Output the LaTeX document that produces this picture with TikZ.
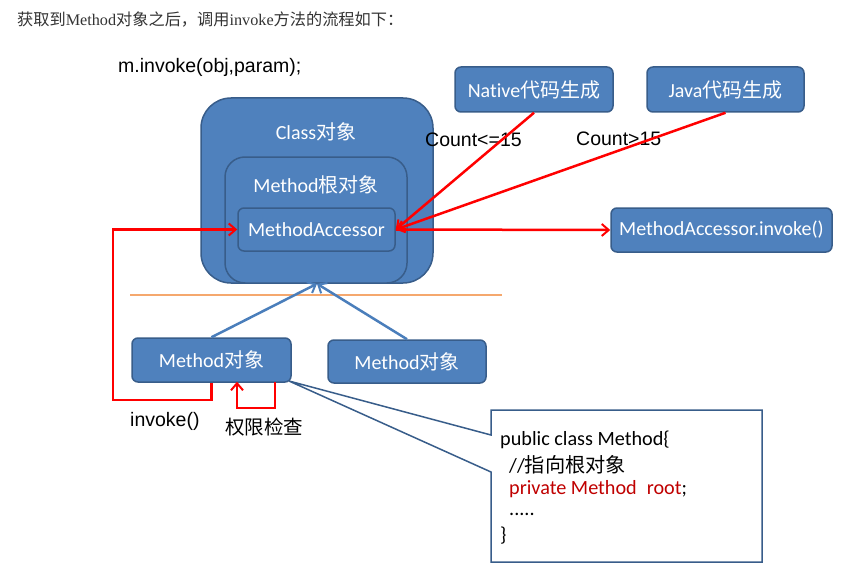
\documentclass[tikz,border=0pt]{standalone}
\usepackage{fontspec}
\setmainfont{Carlito}[Ligatures={NoCommon}]
\newfontfamily\cjk{Noto Sans CJK SC}
\newfontfamily\arial{Liberation Sans}
\newfontfamily\tnr{Liberation Serif}
\usetikzlibrary{arrows.meta}
\definecolor{boxfill}{HTML}{4F81BD}
\definecolor{boxline}{HTML}{385D8A}
\definecolor{bluearr}{HTML}{4A7EBB}
\definecolor{codered}{HTML}{C00000}
\definecolor{orangeline}{HTML}{F5A86E}
\definecolor{hdr}{HTML}{333333}
\tikzset{
  bluebox/.style={draw=boxline, fill=boxfill, line width=1.5pt, rounded corners=6pt, text=white, font=\fontsize{20}{23}\selectfont, inner sep=0pt},
  redarrow/.style={draw=red, line width=2.5pt, -{Straight Barb[length=7pt,width=12pt,line width=2pt]}},
  bluearrow/.style={draw=bluearr, line width=2.5pt, -{Straight Barb[length=7pt,width=12pt,line width=2pt]}},
  plain/.style={inner sep=0pt, anchor=west},
  arialtext/.style={plain, font=\arial\fontsize{19.5}{23}\selectfont},
  codetext/.style={plain, font=\fontsize{20.2}{24}\selectfont},
}
\begin{document}
\begin{tikzpicture}[x=1pt,y=-1pt]
\useasboundingbox[fill=white] (0,0) rectangle (861,583);
% header
\node[plain, text=hdr, font=\fontsize{16.2}{19}\selectfont] (hdr) at (17,20) {{\cjk 获取到}{\tnr Method}{\cjk 对象之后，调用}{\tnr invoke}{\cjk 方法的流程如下：}};
\node[arialtext] (call) at (118,67) {m.invoke(obj,param);};
% class boxes
\node[bluebox, rounded corners=30pt, minimum width=232pt, minimum height=185pt] (cls) at (317,190.5) {};
\node[text=white, font=\fontsize{20}{23}\selectfont, inner sep=0pt] (clsl) at (316,132) {Class{\cjk 对象}};
\node[bluebox, rounded corners=20pt, minimum width=182pt, minimum height=126pt] (root) at (316,220) {};
\node[text=white, font=\fontsize{20}{23}\selectfont, inner sep=0pt] (rootl) at (316,185) {Method{\cjk 根对象}};
\node[bluebox, minimum width=157pt, minimum height=43pt] (ma) at (316.5,229.5) {MethodAccessor};
% generators
\node[bluebox, minimum width=158pt, minimum height=45pt] (nat) at (534,89.5) {Native{\cjk 代码生成}};
\node[bluebox, minimum width=157pt, minimum height=45pt] (jav) at (725.5,89.5) {Java{\cjk 代码生成}};
\node[bluebox, minimum width=221pt, minimum height=44pt] (mai) at (721.5,230) {MethodAccessor.invoke()};
\node[arialtext] (c1) at (425,140) {Count<=15};
\node[arialtext] (c2) at (576,139) {Count>15};
\draw[redarrow] (nat.south) -- (ma.east);
\draw[redarrow] (jav.south) -- (ma.east);
\draw[redarrow] (ma.east) -- (mai.west);
% separator
\draw[orangeline, line width=1.3pt] (130,295) coordinate (s1) -- (502,295) coordinate (s2);
% method objects
\node[bluebox, minimum width=159pt, minimum height=44pt] (m1) at (211.5,360) {Method{\cjk 对象}};
\node[bluebox, minimum width=158pt, minimum height=43pt] (m2) at (407,361.5) {Method{\cjk 对象}};
\draw[bluearrow] (m1.north) -- (cls.south);
\draw[bluearrow] (m2.north) -- (cls.south);
% invoke loop
\coordinate (lp) at (113,400);
\draw[redarrow] (m1.south) |- (lp) |- (ma.west);
\coordinate (pa) at (275,382);
\coordinate (pb) at (237,408);
\draw[redarrow] (pa) |- (pb) -- ([yshift=1pt]pb |- m1.south);
\node[arialtext] (inv) at (130,421) {invoke()};
\node[plain, font=\cjk\fontsize{19.5}{23}\selectfont] (perm) at (225,427) {权限检查};
% callout
\coordinate (tip) at (289,381);
\draw[boxline, line width=1.5pt, fill=white, line join=miter]
  (491,410) -- (762,410) -- (762,562) -- (491,562) -- (491,472) -- (tip) -- (491,435) -- cycle;
\node[codetext] (l1) at (500,440) {public class Method\{};
\node[codetext] (l2) at (509,465) {//{\cjk 指向根对象}};
\node[codetext, text=codered] (l3) at (509,489) {private Method\hspace{10pt}root{\color{black};}};
\node[codetext] (l4) at (509,514) {.....};
\node[codetext] (l5) at (500,536) {\}};
\end{tikzpicture}
\end{document}
